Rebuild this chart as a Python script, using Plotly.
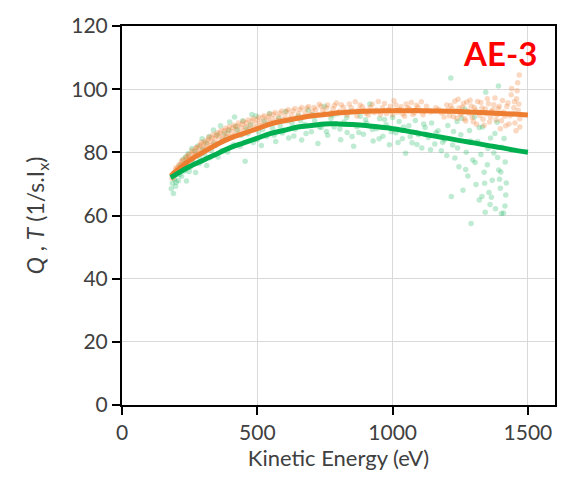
import plotly.graph_objects as go

# Fitted curves
fit_x = [180, 200, 250, 300, 350, 400, 450, 500, 550, 600, 650, 700, 750, 800, 850, 900,
         950, 1000, 1050, 1100, 1150, 1200, 1250, 1300, 1350, 1400, 1450, 1500]
fit_T = [72.5, 74, 77.5, 80, 82.5, 84.5, 86, 87.5, 89, 90, 90.8, 91.5, 92, 92.5, 92.8, 93,
         93.1, 93.2, 93.2, 93.2, 93.1, 93, 92.9, 92.7, 92.5, 92.3, 92.1, 91.8]
fit_Q = [72, 73, 75.5, 77.5, 79.5, 81.5, 83, 84.5, 86, 87, 88, 88.5, 89, 89, 88.8, 88.5,
         88, 87.5, 86.8, 86, 85.2, 84.5, 83.7, 83, 82.2, 81.5, 80.7, 80]

# Orange scatter (T)
T_x = [185, 190, 195, 200, 205, 210, 215, 220, 228, 235, 240, 248, 255, 262, 270, 276, 283, 290,
       296, 303, 310, 318, 325, 332, 340, 348, 355, 362, 370, 378, 385, 393, 400, 410, 418, 426,
       435, 444, 452, 460, 470, 480, 490, 500, 510, 520, 530, 540, 550, 560, 572, 584, 596, 608,
       620, 632, 645, 658, 670, 683, 696, 710, 722, 735, 748, 760, 772, 785, 798, 810, 825, 840,
       855, 868, 880, 895, 910, 925, 940, 955, 970, 985, 1000, 1012, 1025, 1038, 1050, 1062, 1075,
       1088, 1100, 1112, 1125, 1140, 1160, 1180, 1200, 1210, 1220, 1230, 1238, 1246, 1254, 1262,
       1270, 1278, 1286, 1294, 1302, 1310, 1318, 1326, 1334, 1342, 1350, 1358, 1366, 1374, 1382,
       1390, 1398, 1406, 1414, 1422, 1430, 1438, 1444, 1450, 1456, 1460, 1464, 1468, 1470,
       190, 198, 207, 212, 218, 224, 231, 238, 244, 251, 258, 266, 273, 280, 287, 293, 300, 307,
       314, 321, 328, 336, 344, 351, 358, 366, 374, 382, 389, 397, 405, 414, 422, 431, 440, 448,
       457, 466, 475, 485, 495, 505, 515, 525, 535, 545, 555, 566, 578, 590, 602, 614, 626, 639,
       651, 664, 677, 690, 703, 716, 729, 742, 755, 767, 780, 792, 804, 818, 832, 847, 862, 875,
       888, 902, 917, 932, 947, 962, 977, 992, 1005, 1018, 1031, 1044, 1056, 1069, 1081, 1094,
       1106, 1118, 1170, 1190, 1205, 1215, 1225, 1234, 1242, 1250, 1258, 1266, 1274, 1282, 1290,
       1298, 1306, 1314, 1322, 1330, 1338, 1346, 1354, 1362, 1370, 1378, 1386, 1394, 1402, 1410,
       1418, 1426, 1434, 1440, 1448, 1452, 1458, 1462, 1466, 1470]
T_y = [71.8, 73.5, 72.9, 75.1, 73.6, 76.0, 74.8, 77.2, 75.9, 78.4, 76.8, 79.3, 77.6, 80.1, 78.9,
       81.5, 79.8, 82.4, 80.6, 82.9, 81.2, 84.0, 82.1, 84.6, 83.0, 85.3, 82.9, 86.1, 84.2, 86.8,
       84.9, 87.2, 85.0, 87.9, 85.6, 88.3, 86.2, 88.9, 86.8, 89.4, 87.3, 90.0, 87.8, 90.3, 88.4,
       91.0, 88.9, 91.3, 89.5, 92.0, 90.1, 92.4, 90.3, 92.9, 90.6, 93.2, 91.0, 93.6, 91.3, 94.0,
       91.9, 94.2, 92.0, 94.6, 92.3, 95.0, 92.5, 94.8, 92.6, 95.1, 92.9, 95.3, 93.1, 91.5, 95.0,
       93.3, 91.8, 95.2, 93.4, 92.0, 95.5, 93.5, 91.9, 95.0, 93.6, 92.1, 95.3, 93.8, 92.0, 94.9,
       93.2, 91.9, 94.6, 92.8, 94.1, 92.5, 95.0, 91.6, 93.8, 96.2, 90.8, 94.0, 92.2, 95.5, 89.9,
       93.1, 96.5, 91.0, 94.2, 88.9, 92.6, 95.8, 90.5, 93.7, 97.0, 89.6, 92.9, 95.1, 90.2, 93.9,
       87.5, 96.4, 91.4, 94.5, 89.0, 98.2, 92.1, 96.0, 86.8, 99.5, 93.3, 104.5, 90.6,
       72.0, 74.5, 75.2, 73.9, 76.3, 77.5, 76.2, 77.9, 79.0, 78.2, 80.6, 79.5, 81.4, 80.3, 81.9,
       83.2, 81.5, 83.6, 82.5, 84.8, 83.4, 85.6, 84.3, 86.2, 84.9, 86.9, 85.4, 87.6, 86.0, 88.1,
       86.6, 88.6, 87.2, 89.3, 87.8, 89.8, 88.1, 90.2, 88.6, 90.7, 89.2, 91.1, 89.6, 91.6, 90.2,
       92.1, 90.6, 92.6, 91.2, 93.1, 91.6, 93.5, 91.9, 93.9, 92.3, 94.2, 92.6, 94.5, 92.9, 93.6,
       95.2, 93.3, 94.0, 91.9, 93.8, 95.6, 93.0, 94.3, 91.8, 94.1, 96.0, 93.4, 94.4, 92.4, 94.2,
       92.6, 96.1, 94.0, 92.3, 94.6, 96.3, 92.7, 94.4, 91.4, 94.1, 95.8, 92.6, 94.3, 96.0, 92.9,
       93.6, 91.2, 93.4, 94.8, 91.3, 93.0, 96.8, 92.0, 94.3, 90.6, 95.9, 92.4, 94.7, 89.7, 93.3,
       96.1, 91.7, 94.0, 88.6, 92.2, 95.4, 91.1, 93.5, 97.2, 91.8, 94.6, 90.0, 92.8, 88.4, 95.6,
       91.6, 100.2, 94.1, 89.3, 97.0, 102.0, 95.3, 88.0]

# Green scatter (Q)
Q_x = [182, 186, 190, 194, 198, 203, 208, 214, 220, 226, 232, 238, 245, 252, 258, 265, 272, 280,
       288, 296, 305, 313, 322, 330, 338, 346, 355, 364, 372, 380, 390, 398, 408, 416, 426, 436,
       446, 455, 465, 475, 485, 495, 505, 515, 525, 535, 545, 556, 568, 580, 592, 604, 616, 628,
       640, 652, 664, 676, 688, 700, 712, 724, 736, 748, 760, 772, 784, 796, 808, 820, 832, 844,
       856, 868, 880, 892, 904, 916, 928, 940, 952, 964, 976, 988, 1000, 1012, 1024, 1036, 1048,
       1060, 1072, 1084, 1096, 1108, 1120, 1132, 1144, 1156, 1168, 1180, 1192, 1204, 1215, 1217,
       1222, 1230, 1238, 1245, 1252, 1260, 1266, 1272, 1278, 1284, 1290, 1296, 1302, 1308, 1314,
       1320, 1326, 1330, 1332, 1338, 1342, 1344, 1350, 1356, 1360, 1362, 1368, 1374, 1380, 1386,
       1391, 1392, 1395, 1398, 1402, 1404, 1410, 1415, 1416, 1420,
       200, 212, 224, 236, 248, 260, 270, 285, 298, 310, 325, 340, 352, 368, 384, 395, 412, 420,
       440, 460, 480, 500, 520, 540, 562, 585, 610, 635, 660, 680, 705, 730, 755, 780, 805, 830,
       850, 875, 900, 925, 950, 970, 995, 1020, 1040, 1065, 1090, 1115, 1140, 1160, 1185, 1200,
       1225, 1240, 1255, 1270, 1288, 1305, 1320, 1340, 1352, 1365, 1378, 1388, 1400, 1412, 1418]
Q_y = [68.5, 70.2, 67.0, 71.5, 69.3, 73.8, 71.0, 75.9, 72.4, 77.8, 74.1, 70.9, 79.6, 75.3, 81.2,
       76.7, 73.6, 82.0, 78.1, 84.3, 79.4, 75.8, 85.0, 80.6, 87.1, 82.2, 78.5, 88.4, 83.7, 86.0,
       80.1, 89.6, 84.8, 91.2, 87.0, 81.9, 90.0, 77.2, 85.9, 88.7, 83.1, 91.5, 86.4, 82.2, 89.9,
       85.0, 92.3, 87.6, 83.4, 90.8, 86.1, 92.9, 84.5, 89.2, 87.3, 91.6, 83.9, 88.8, 93.4, 86.5,
       90.1, 82.8, 87.9, 94.6, 85.4, 90.7, 88.0, 92.2, 84.0, 89.6, 86.3, 93.0, 81.9, 88.1, 91.4,
       85.7, 89.2, 95.3, 83.6, 87.5, 90.6, 85.1, 88.7, 82.4, 91.0, 86.2, 89.8, 84.3, 79.7, 88.4,
       83.0, 90.1, 85.6, 81.4, 87.9, 84.7, 89.3, 82.6, 86.8, 80.5, 84.0, 88.5, 103.5, 66.0, 82.3,
       78.2, 89.8, 75.4, 85.6, 68.0, 93.7, 80.0, 72.5, 86.9, 57.5, 77.6, 91.2, 69.8, 83.4, 64.9,
       79.3, 66.0, 88.0, 73.7, 61.0, 99.0, 76.1, 67.3, 63.5, 84.5, 71.2, 79.8, 62.1, 89.5, 101.0,
       74.4, 71.5, 68.6, 60.6, 81.6, 60.8, 63.0, 76.9, 70.3,
       70.5, 72.9, 74.8, 78.6, 73.9, 78.0, 80.4, 76.5, 81.0, 83.0, 78.3, 82.6, 85.6, 80.5, 84.2,
       86.9, 82.4, 88.2, 85.4, 87.6, 92.0, 84.0, 87.2, 88.8, 85.4, 88.3, 89.9, 85.2, 90.0, 86.0,
       91.9, 88.0, 86.6, 91.8, 87.4, 91.0, 85.0, 86.3, 90.3, 87.2, 84.3, 90.4, 86.5, 83.1, 88.0,
       85.0, 82.5, 89.0, 80.8, 86.2, 83.2, 79.0, 86.6, 81.4, 90.7, 74.6, 83.6, 76.8, 87.9, 70.2,
       81.2, 65.8, 86.0, 78.4, 73.8, 84.4, 66.5]

ORANGE = "#ED7D31"
GREEN = "#00B050"

fig = go.Figure()
fig.add_trace(go.Scatter(x=Q_x, y=Q_y, mode="markers",
                         marker=dict(color=GREEN, size=5.5, opacity=0.25, line=dict(width=0)),
                         showlegend=False, hoverinfo="skip"))
fig.add_trace(go.Scatter(x=T_x, y=T_y, mode="markers",
                         marker=dict(color=ORANGE, size=5.5, opacity=0.3, line=dict(width=0)),
                         showlegend=False, hoverinfo="skip"))
fig.add_trace(go.Scatter(x=fit_x, y=fit_T, mode="lines",
                         line=dict(color=ORANGE, width=5, shape="spline"),
                         showlegend=False, hoverinfo="skip"))
fig.add_trace(go.Scatter(x=fit_x, y=fit_Q, mode="lines",
                         line=dict(color=GREEN, width=5, shape="spline"),
                         showlegend=False, hoverinfo="skip"))

font_family = "Lato, 'Open Sans', sans-serif"
TXT = "#404040"
fig.update_layout(
    width=572, height=484,
    margin=dict(l=122, r=17, t=19, b=79),
    paper_bgcolor="white", plot_bgcolor="white",
    font=dict(family=font_family, size=21, color=TXT),
    xaxis=dict(range=[0, 1600], tickvals=[0, 500, 1000, 1500], ticks="outside", ticklen=8,
               tickwidth=2, tickcolor="black", showline=True, linecolor="black", linewidth=2,
               mirror=True, showgrid=True, gridcolor="#D9D9D9", gridwidth=1, zeroline=False,
               tickfont=dict(size=21, color=TXT),
               title=dict(text="Kinetic Energy (eV)", font=dict(size=22, color=TXT), standoff=4)),
    yaxis=dict(range=[0, 120], tickvals=[0, 20, 40, 60, 80, 100, 120], ticks="outside", ticklen=8,
               tickwidth=2, tickcolor="black", showline=True, linecolor="black", linewidth=2,
               mirror=True, showgrid=True, gridcolor="#D9D9D9", gridwidth=1, zeroline=False,
               tickfont=dict(size=21, color=TXT),
               title=dict(text="<i>Q</i> , <i>T</i> (1/s.I<sub>x</sub>)", font=dict(size=23, color=TXT),
                          standoff=20)),
    annotations=[dict(text="<b>AE-3</b>", x=0.873, y=0.93, xref="paper", yref="paper",
                      showarrow=False, font=dict(size=33, color="#FF0000", family=font_family),
                      xanchor="center", yanchor="middle")],
)

fig.write_html("out.html")
